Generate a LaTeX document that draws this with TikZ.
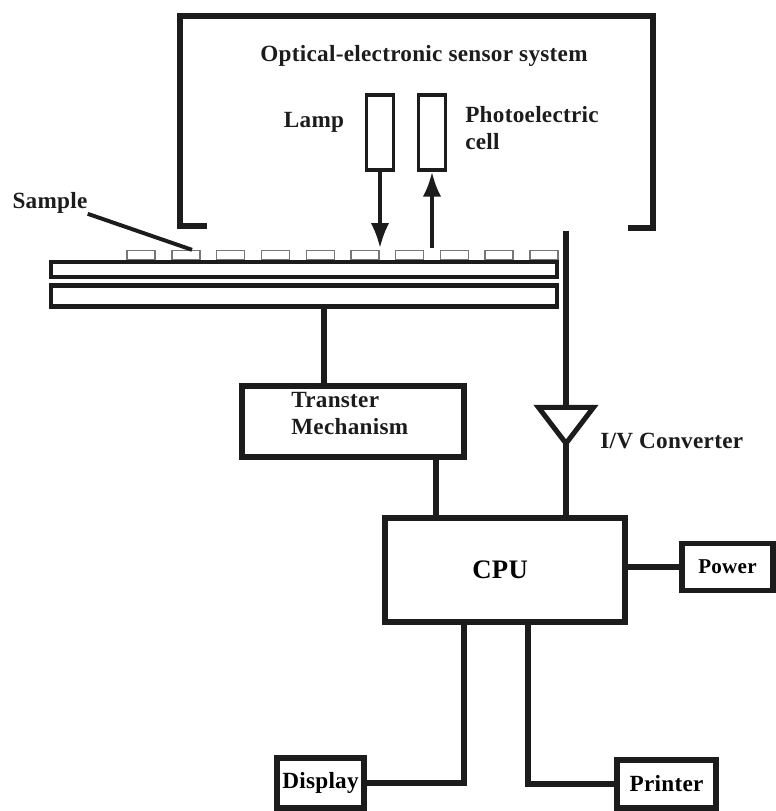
\documentclass[tikz,border=0pt]{standalone}
\usepackage{fontspec}
\setmainfont{Liberation Serif}
\newfontfamily\labelfont[LetterSpace=1.2]{Liberation Serif}
\usetikzlibrary{arrows.meta,positioning,shapes.geometric}
\definecolor{inkDark}{HTML}{1C1C1C}
\definecolor{sampleGrey}{HTML}{777777}
\begin{document}
\begin{tikzpicture}[x=0.025cm,y=-0.025cm,line join=miter,
unit/.style={draw=inkDark,line width=5.5pt/1.4,inner sep=0pt,align=center,font=\labelfont\bfseries\fontsize{16.5}{19}\selectfont},
plate/.style={draw=inkDark,line width=4.6pt/1.4,inner sep=0pt,minimum width=506*0.025cm},
sample/.style={draw=sampleGrey,line width=1.4pt/1.4,inner sep=0pt,minimum width=28*0.025cm,minimum height=9*0.025cm},
tube/.style={draw=inkDark,line width=3.6pt/1.4,inner sep=0pt,minimum width=27*0.025cm,minimum height=75*0.025cm},
wire/.style={draw=inkDark,line width=5pt/1.4},
beam/.style={draw=inkDark,line width=3.6pt/1.4,-{Latex[length=6.2mm,width=4.6mm]}},
tag/.style={inner sep=0pt,text=inkDark,align=left,font=\labelfont\bfseries\fontsize{16.5}{19}\selectfont}]
\useasboundingbox (0,0) rectangle (776,811);
\draw[wire] (207,226) -- (180,226) -- (180,16) -- (653,16) -- (653,228) -- (628,228);
\node[tag] (title) at (424,56) {Optical-electronic sensor system};
\node[tag] (lamptag) at (314,122) {Lamp};
\node[tag,anchor=west] (celltag) at (465,128) {Photoelectric\\cell};
\node[tag] (sampletag) at (50,203) {Sample};
\node[tube] (lamp) at (380,132.5) {};
\node[tube] (cell) at (432,132.5) {};
\foreach \sx [count=\si] in {141,186,230.5,275.5,320.5,365,409.5,454.5,499,544}
  \node[sample] (s\si) at (\sx,255) {};
\node[plate,minimum height=15*0.025cm] (upper) at (304,269.5) {};
\node[plate,minimum height=21*0.025cm] (lower) at (304,296) {};
\draw[wire,line width=2.8pt] (sampletag.south east) -- ([xshift=6*0.025cm]s2.north);
\coordinate (lampbeam) at (380,248);
\coordinate (cellbeam) at (432,248);
\draw[beam] (lamp.south) -- (lampbeam);
\draw[beam] (cellbeam) -- (cell.south);
\node[unit,minimum width=222*0.025cm,minimum height=71*0.025cm] (transfer) at (353,421.5) {};
\node[tag,anchor=north west] (transfertag) at (291,392) {Transter\\Mechanism};
\node[unit,minimum width=240*0.025cm,minimum height=104*0.025cm,font=\labelfont\bfseries\fontsize{19}{22}\selectfont] (cpu) at (505,570) {\hspace*{-7pt}CPU};
\node[unit,minimum width=91*0.025cm,minimum height=47*0.025cm,font=\labelfont\bfseries\fontsize{15}{19}\selectfont] (power) at (727.5,567) {Power};
\node[unit,minimum width=87*0.025cm,minimum height=50*0.025cm] (display) at (320.5,783) {Display};
\node[unit,minimum width=99*0.025cm,minimum height=48*0.025cm] (printer) at (666.5,784) {Printer};
\node[draw=inkDark,line width=5pt/1.4,isosceles triangle,isosceles triangle apex angle=70,isosceles triangle stretches,shape border rotate=-90,minimum width=55*0.025cm,minimum height=36*0.025cm,inner sep=0pt,outer sep=0pt] (conv) at (566,421) {};
\node[tag,anchor=west] (convtag) at (600,441) {I/V Converter};
\coordinate (probe) at (566,231);
\coordinate (tabledrop) at (324,340);
\coordinate (transferdrop) at (436,480);
\coordinate (displaydrop) at (464,700);
\coordinate (printerdrop) at (528,700);
\draw[wire] (probe) -- (conv.lower side);
\draw[wire] (conv.apex) -- (conv.apex |- cpu.north);
\draw[wire] (lower.south -| tabledrop) -- (transfer.north -| tabledrop);
\draw[wire] (transfer.south -| transferdrop) -- (cpu.north -| transferdrop);
\draw[wire] (cpu.east |- power.west) -- (power.west);
\draw[wire] (cpu.south -| displaydrop) |- (display.east);
\draw[wire] (cpu.south -| printerdrop) |- (printer.west);
\end{tikzpicture}
\end{document}
